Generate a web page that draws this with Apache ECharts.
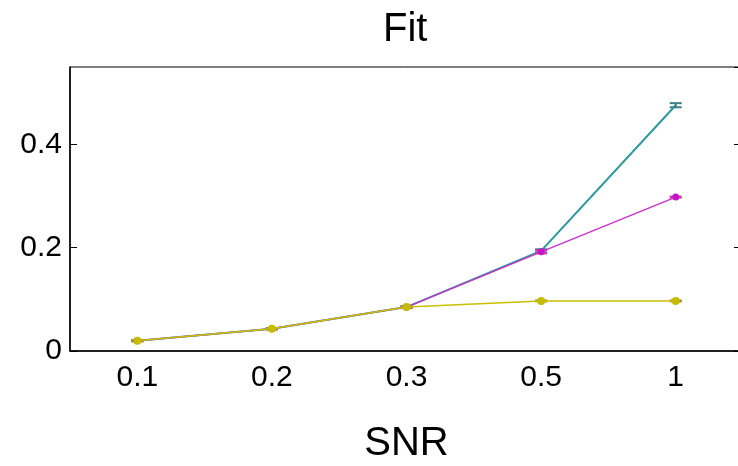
<!DOCTYPE html>
<html>
<head>
<meta charset="utf-8">
<script src="https://cdn.jsdelivr.net/npm/echarts@6/dist/echarts.min.js"></script>
<style>
html,body{margin:0;padding:0;background:#fff;}
#chart{width:738px;height:466px;}
</style>
</head>
<body>
<div id="chart"></div>
<script>
var snr = ['0.1', '0.2', '0.3', '0.5', '1'];
var yTicks = [0, 0.2, 0.4];

// fit values per series
var tealFit = [0.020, 0.043, 0.085, 0.194, 0.476];
var tealErr = [0.001, 0.001, 0.001, 0.003, 0.004];
var magentaFit = [0.020, 0.043, 0.085, 0.192, 0.298];
var magentaErr = [0.001, 0.001, 0.001, 0.003, 0.001];
var yellowFit = [0.020, 0.043, 0.085, 0.097, 0.097];
var yellowErr = [0.001, 0.001, 0.002, 0.001, 0.001];

var FONT = '"Liberation Sans", Arial, sans-serif';

function errData(vals, errs) {
    var out = [];
    for (var i = 0; i < vals.length; i++) {
        out.push([i, vals[i] - errs[i], vals[i] + errs[i]]);
    }
    return out;
}

function errSeries(vals, errs, color, z) {
    return {
        type: 'custom',
        z: z,
        silent: true,
        data: errData(vals, errs),
        renderItem: function (params, api) {
            var i = api.value(0);
            var lo = api.coord([i, api.value(1)]);
            var hi = api.coord([i, api.value(2)]);
            var w = 6;
            var st = {stroke: color, lineWidth: 2};
            return {
                type: 'group',
                children: [
                    {type: 'line', shape: {x1: lo[0], y1: lo[1], x2: hi[0], y2: hi[1]}, style: st},
                    {type: 'line', shape: {x1: lo[0] - w, y1: lo[1], x2: lo[0] + w, y2: lo[1]}, style: st},
                    {type: 'line', shape: {x1: hi[0] - w, y1: hi[1], x2: hi[0] + w, y2: hi[1]}, style: st}
                ]
            };
        }
    };
}

var myChart = echarts.init(document.getElementById('chart'));

var option = {
    animation: false,
    title: {
        text: 'Fit',
        left: 383,
        top: 10,
        padding: 0,
        textStyle: {fontFamily: FONT, fontSize: 40, fontWeight: 'normal', color: '#000'}
    },
    grid: {
        left: 70,
        right: -5,
        top: 67,
        bottom: 115,
        outerBoundsMode: 'none',
        show: true,
        borderColor: '#000',
        borderWidth: 1,
        containLabel: false
    },
    xAxis: {
        type: 'category',
        data: snr,
        boundaryGap: true,
        name: 'SNR',
        nameLocation: 'middle',
        nameGap: 73,
        nameTextStyle: {fontFamily: FONT, fontSize: 40, color: '#000'},
        axisLine: {lineStyle: {color: '#000', width: 1.5}},
        axisTick: {inside: true, length: 8, alignWithLabel: true, lineStyle: {color: '#444'}},
        axisLabel: {fontFamily: FONT, fontSize: 30, color: '#000', margin: 12},
        splitLine: {show: false}
    },
    yAxis: [
        {
            type: 'value',
            min: 0,
            max: 0.55,
            interval: 0.2,
            axisLine: {show: true, lineStyle: {color: '#000', width: 1.5}},
            axisTick: {show: true, inside: true, length: 7, lineStyle: {color: '#000'}},
            axisLabel: {
                fontFamily: FONT, fontSize: 30, color: '#000', margin: 8,
                showMaxLabel: false,
                formatter: function (v) { return yTicks.indexOf(Math.round(v * 10) / 10) >= 0 ? String(Math.round(v * 10) / 10) : ''; }
            },
            splitLine: {show: false}
        },
        {
            type: 'value',
            position: 'right',
            min: 0,
            max: 0.55,
            interval: 0.2,
            axisLine: {show: true, lineStyle: {color: '#000'}},
            axisTick: {show: true, inside: true, length: 9, lineStyle: {color: '#000'}},
            axisLabel: {show: false},
            splitLine: {show: false}
        }
    ],
    series: [
        {
            name: 'teal',
            type: 'line',
            data: tealFit,
            z: 2,
            symbol: 'none',
            lineStyle: {color: '#2a9a9c', width: 2}
        },
        errSeries(tealFit, tealErr, '#3f7f86', 3),
        {
            name: 'magenta',
            type: 'line',
            data: magentaFit,
            z: 4,
            symbol: 'circle',
            symbolSize: 7,
            itemStyle: {color: '#c814c8'},
            lineStyle: {color: '#cc33cc', width: 1.5}
        },
        errSeries(magentaFit, magentaErr, '#d23ab0', 3),
        {
            name: 'yellow',
            type: 'line',
            data: yellowFit,
            z: 6,
            symbol: 'circle',
            symbolSize: 8,
            itemStyle: {color: '#c4bc00'},
            lineStyle: {color: '#c8c000', width: 1.5}
        },
        errSeries(yellowFit, yellowErr, '#b08a3a', 5)
    ]
};

myChart.setOption(option);
</script>
</body>
</html>
